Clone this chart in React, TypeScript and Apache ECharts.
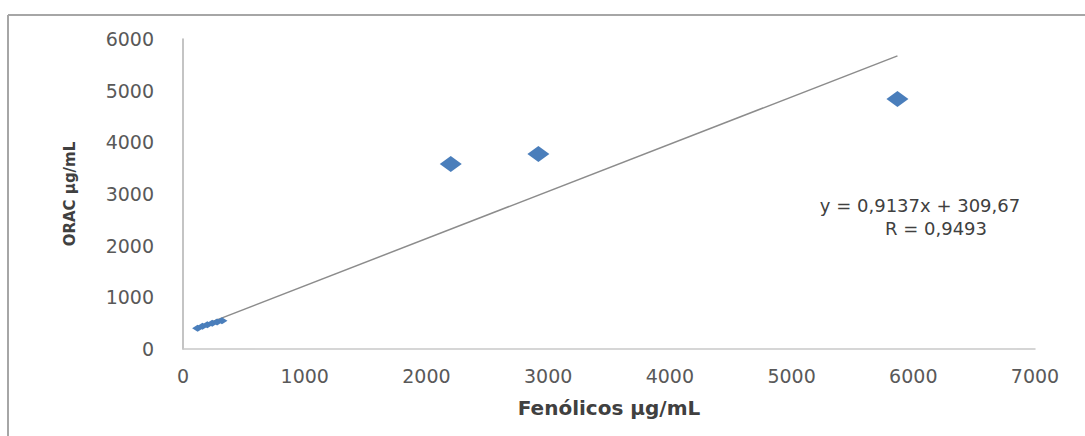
import React, { useEffect, useRef } from "react";
import * as echarts from "echarts";

const mainX = [2200, 2920, 5870];
const mainY = [3580, 3775, 4840];
const clusterX = [120, 160, 200, 240, 280, 320];
const clusterY = [400, 440, 470, 500, 525, 545];
const slope = 0.9137;
const intercept = 309.67;
const eqLine1 = "y = 0,9137x + 309,67";
const eqLine2 = "R = 0,9493";
const xTicks = [0, 1000, 2000, 3000, 4000, 5000, 6000, 7000];
const yTicks = [0, 1000, 2000, 3000, 4000, 5000, 6000];

export default function App() {
  const ref = useRef<HTMLDivElement>(null);
  useEffect(() => {
    if (!ref.current) return;
    const chart = echarts.init(ref.current, undefined, { renderer: "svg" });
    const allX = [...clusterX, ...mainX];
    const xmin = Math.min(...allX);
    const xmax = Math.max(...allX);
    const font = "DejaVu Sans";
    chart.setOption({
      animation: false,
      backgroundColor: "#ffffff",
      grid: { left: 183, right: 50, top: 39, bottom: 87 },
      xAxis: {
        type: "value",
        min: xTicks[0],
        max: xTicks[xTicks.length - 1],
        interval: 1000,
        splitLine: { show: false },
        axisTick: { show: false },
        axisLine: { show: true, lineStyle: { color: "#c8c8c8", width: 1.5 } },
        axisLabel: {
          color: "#595959",
          fontFamily: font,
          fontSize: 19,
          margin: 17,
          formatter: (v: number) => String(v),
        },
        name: "Fenólicos µg/mL",
        nameLocation: "middle",
        nameGap: 49,
        nameTextStyle: { color: "#404040", fontFamily: font, fontSize: 20, fontWeight: "bold" },
      },
      yAxis: {
        type: "value",
        min: yTicks[0],
        max: yTicks[yTicks.length - 1],
        interval: 1000,
        splitLine: { show: false },
        axisTick: { show: false },
        axisLine: { show: true, lineStyle: { color: "#b0b0b0", width: 1.5 } },
        axisLabel: {
          color: "#595959",
          fontFamily: font,
          fontSize: 19,
          margin: 29,
          formatter: (v: number) => String(v),
        },
        name: "ORAC µg/mL",
        nameLocation: "middle",
        nameGap: 106,
        nameRotate: 90,
        nameTextStyle: { color: "#404040", fontFamily: font, fontSize: 15, fontWeight: "bold" },
      },
      series: [
        {
          type: "line",
          data: [
            [xmin, slope * xmin + intercept],
            [xmax, slope * xmax + intercept],
          ],
          showSymbol: false,
          symbol: "none",
          lineStyle: { color: "#8c8c8c", width: 1.5 },
          z: 1,
        },
        {
          type: "scatter",
          data: clusterX.map((x, i) => [x, clusterY[i]]),
          symbol: "diamond",
          symbolSize: [11, 7],
          itemStyle: { color: "#4a7ebb", opacity: 1 },
          z: 3,
        },
        {
          type: "scatter",
          data: mainX.map((x, i) => [x, mainY[i]]),
          symbol: "diamond",
          symbolSize: [22, 16],
          itemStyle: { color: "#4a7ebb", opacity: 1 },
          z: 3,
        },
      ],
      graphic: [
        {
          type: "line",
          shape: { x1: 8, y1: 15, x2: 1085, y2: 15 },
          style: { stroke: "#a6a6a6", lineWidth: 2 },
        },
        {
          type: "line",
          shape: { x1: 8, y1: 15, x2: 8, y2: 436 },
          style: { stroke: "#a6a6a6", lineWidth: 2 },
        },
        {
          type: "text",
          x: 920,
          y: 205,
          style: {
            text: eqLine1,
            fill: "#404040",
            font: `18px "${font}"`,
            align: "center",
            verticalAlign: "middle",
          },
        },
        {
          type: "text",
          x: 936,
          y: 228,
          style: {
            text: eqLine2,
            fill: "#404040",
            font: `18px "${font}"`,
            align: "center",
            verticalAlign: "middle",
          },
        },
      ],
    });
    return () => chart.dispose();
  }, []);
  return (
    <div
      ref={ref}
      style={{ position: "fixed", left: 0, top: 0, width: 1085, height: 436 }}
    />
  );
}
